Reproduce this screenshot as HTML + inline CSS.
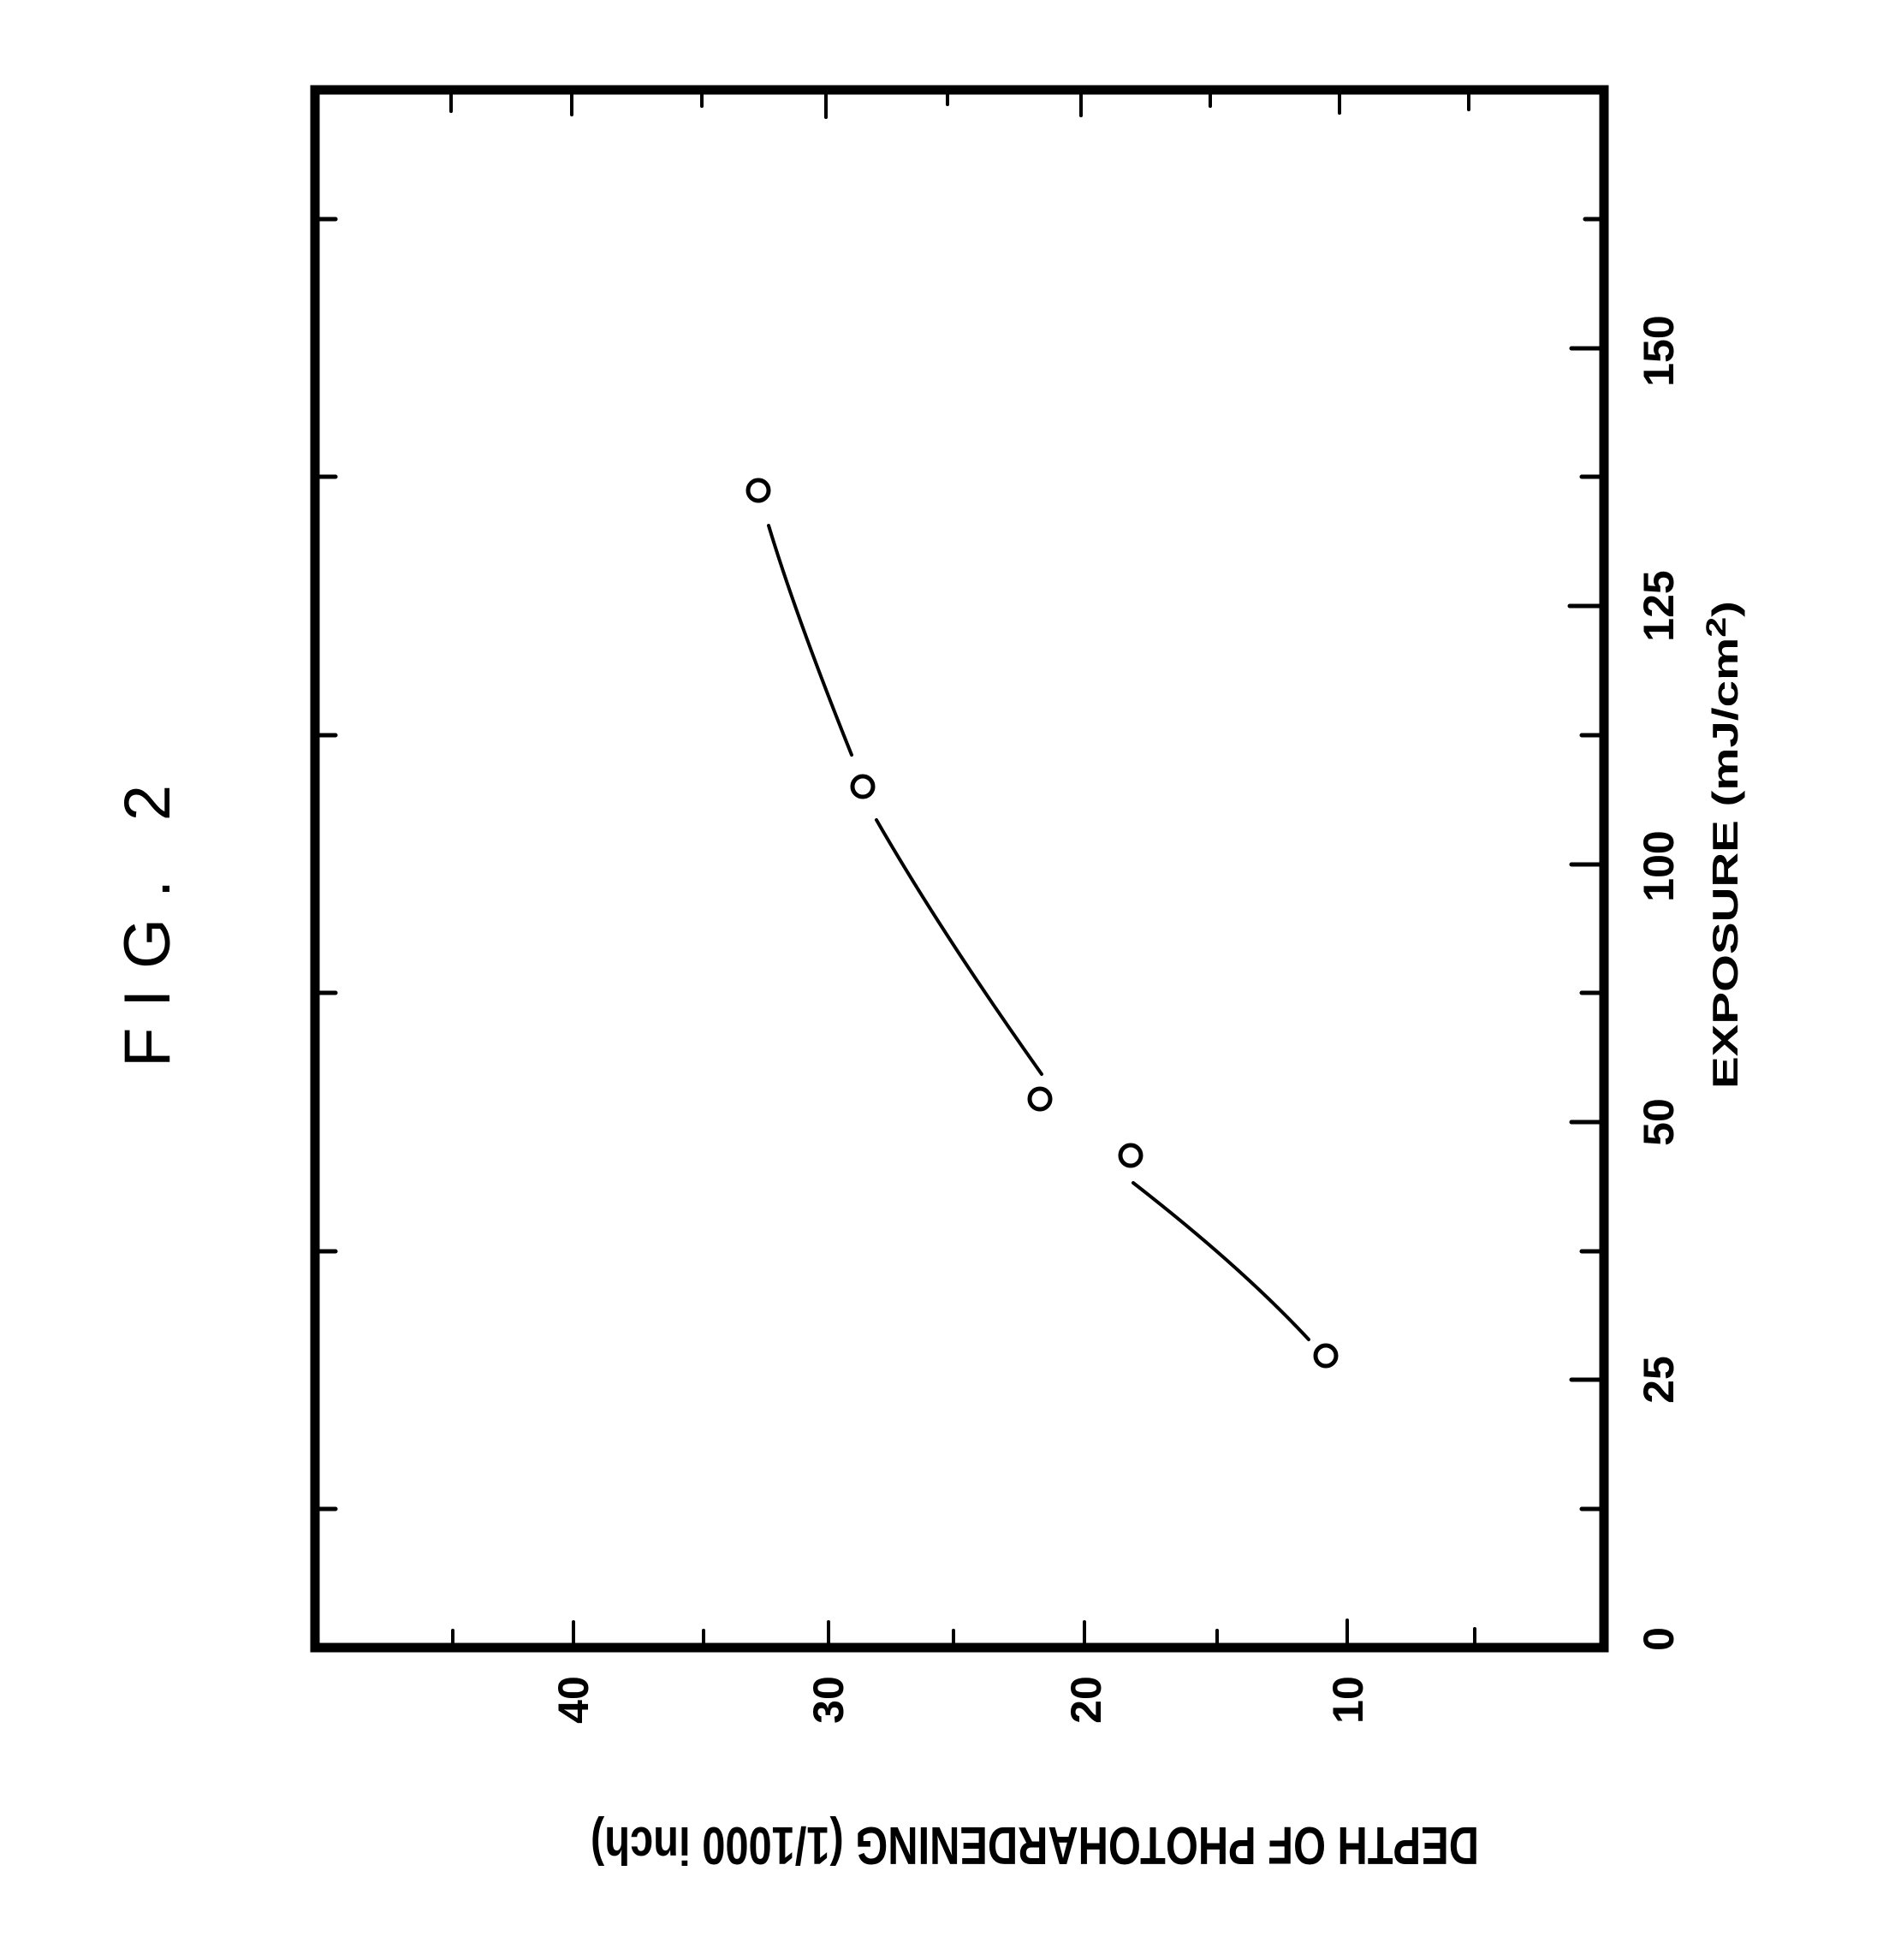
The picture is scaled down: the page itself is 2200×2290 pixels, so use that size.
<!DOCTYPE html>
<html><head><meta charset="utf-8"><style>
html,body{margin:0;padding:0;background:#fff;}
svg{display:block;}
</style></head><body>
<svg width="2200" height="2290" viewBox="0 0 2200 2290" xmlns="http://www.w3.org/2000/svg">
<rect width="2200" height="2290" fill="#fff"/>
<g stroke="#000" fill="none" stroke-linecap="round">
<rect x="368" y="105" width="1506" height="1820" stroke-width="11"/>
<!-- right ticks -->
<g stroke-width="5">
<line x1="1874" y1="256" x2="1852" y2="256"/>
<line x1="1874" y1="407" x2="1836" y2="407"/>
<line x1="1874" y1="557" x2="1848" y2="557"/>
<line x1="1874" y1="708" x2="1834" y2="708"/>
<line x1="1874" y1="859" x2="1848" y2="859"/>
<line x1="1874" y1="1010" x2="1836" y2="1010"/>
<line x1="1874" y1="1160" x2="1848" y2="1160"/>
<line x1="1874" y1="1311" x2="1836" y2="1311"/>
<line x1="1874" y1="1462" x2="1848" y2="1462"/>
<line x1="1874" y1="1612" x2="1836" y2="1612"/>
<line x1="1874" y1="1763" x2="1848" y2="1763"/>
<!-- left ticks -->
<line x1="368" y1="256" x2="392" y2="256"/>
<line x1="368" y1="557" x2="392" y2="557"/>
<line x1="368" y1="859" x2="392" y2="859"/>
<line x1="368" y1="1160" x2="392" y2="1160"/>
<line x1="368" y1="1462" x2="392" y2="1462"/>
<line x1="368" y1="1763" x2="392" y2="1763"/>
</g>
<g stroke-width="4">
<!-- bottom ticks -->
<line x1="529" y1="1925" x2="529" y2="1905"/>
<line x1="670" y1="1925" x2="670" y2="1895"/>
<line x1="822" y1="1925" x2="822" y2="1905"/>
<line x1="968" y1="1925" x2="968" y2="1895"/>
<line x1="1114" y1="1925" x2="1114" y2="1905"/>
<line x1="1267" y1="1925" x2="1267" y2="1895"/>
<line x1="1422" y1="1925" x2="1422" y2="1905"/>
<line x1="1574" y1="1925" x2="1574" y2="1893"/>
<line x1="1723" y1="1925" x2="1723" y2="1903"/>
<!-- top ticks -->
<line x1="527" y1="105" x2="527" y2="130"/>
<line x1="668" y1="105" x2="668" y2="134"/>
<line x1="820" y1="105" x2="820" y2="124"/>
<line x1="965" y1="105" x2="965" y2="137"/>
<line x1="1107" y1="105" x2="1107" y2="122"/>
<line x1="1263" y1="105" x2="1263" y2="135"/>
<line x1="1414" y1="105" x2="1414" y2="124"/>
<line x1="1565" y1="105" x2="1565" y2="132"/>
<line x1="1716" y1="105" x2="1716" y2="128"/>
</g>
<!-- curves -->
<g stroke-width="4">
<path d="M898,614 Q930,720 995,882"/>
<path d="M1024,958 Q1100,1090 1217,1255"/>
<path d="M1324,1382 Q1450,1480 1529,1565"/>
</g>
<!-- points -->
<g stroke-width="5">
<circle cx="886" cy="573" r="12"/>
<circle cx="1008" cy="919" r="12"/>
<circle cx="1215" cy="1284" r="12"/>
<circle cx="1321" cy="1350" r="12"/>
<circle cx="1549" cy="1584" r="12"/>
</g>
</g>
<g font-family="Liberation Sans, sans-serif" font-weight="bold" font-size="50" fill="#000" text-anchor="middle">
<text transform="translate(1955,1915) rotate(-90)">0</text>
<text transform="translate(1955,1612) rotate(-90)">25</text>
<text transform="translate(1955,1311) rotate(-90)">50</text>
<text transform="translate(1955,1012) rotate(-90)">100</text>
<text transform="translate(1955,708) rotate(-90)">125</text>
<text transform="translate(1955,410) rotate(-90)">150</text>
<text transform="translate(687,1986) rotate(-90)">40</text>
<text transform="translate(985,1986) rotate(-90)">30</text>
<text transform="translate(1286,1986) rotate(-90)">20</text>
<text transform="translate(1592,1986) rotate(-90)">10</text>
</g>
<g font-family="Liberation Sans, sans-serif" font-weight="bold" fill="#000">
<text transform="translate(2030,1272) rotate(-90)" font-size="42" textLength="570" lengthAdjust="spacingAndGlyphs">EXPOSURE  (mJ/cm<tspan font-size="32" dy="-14">2</tspan><tspan dy="14">)</tspan></text>
<text transform="translate(1728,2135) rotate(180)" font-size="62" textLength="1038" lengthAdjust="spacingAndGlyphs">DEPTH OF PHOTOHARDENING (1/1000 inch)</text>
</g>
<text transform="translate(198,1247) rotate(-90)" font-family="Liberation Sans, sans-serif" font-size="76" fill="#000" textLength="330" lengthAdjust="spacing">FIG. 2</text>
</svg>
</body></html>
